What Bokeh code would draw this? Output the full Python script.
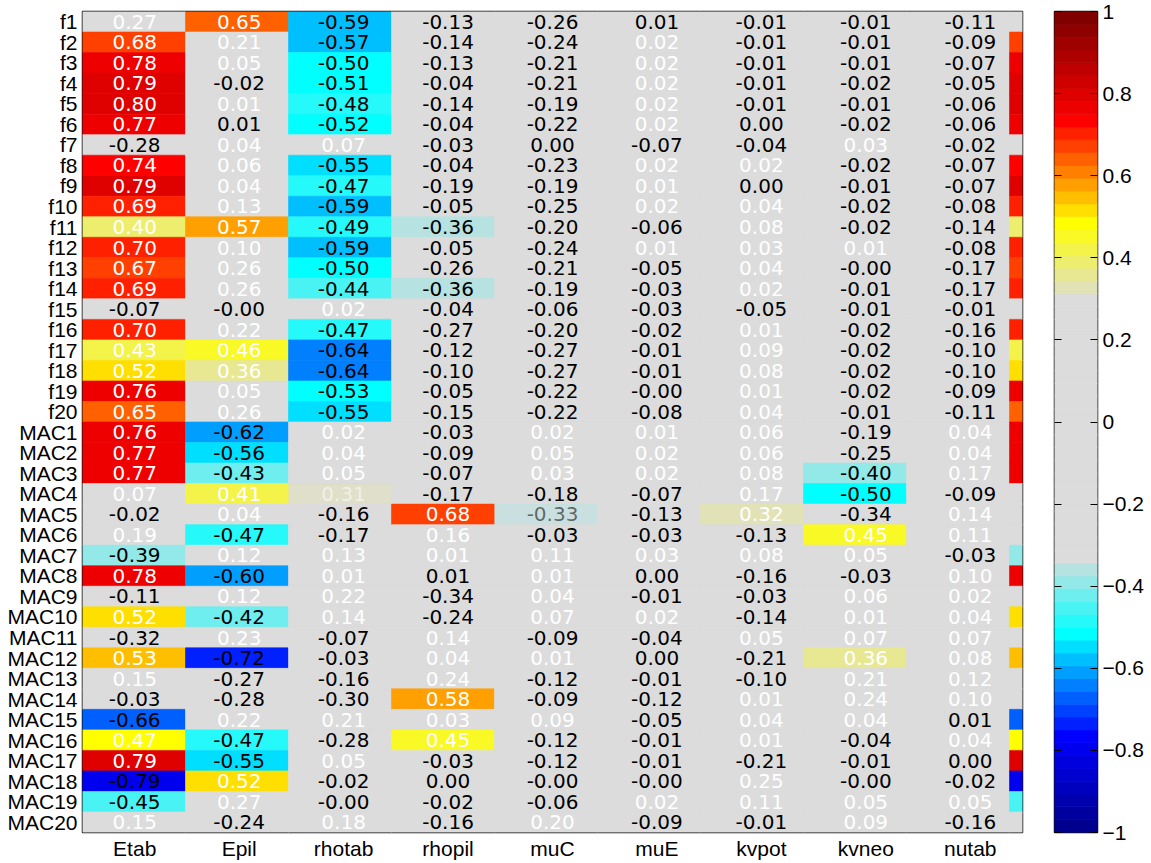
from bokeh.plotting import figure
from bokeh.models import ColumnDataSource, FixedTicker, LinearAxis, Range1d
from bokeh.layouts import row
from bokeh.embed import file_html
from bokeh.resources import INLINE
from bokeh.core.properties import value

# ---------------- data ----------------
rows = [f"f{i}" for i in range(1, 21)] + [f"MAC{i}" for i in range(1, 21)]
cols = ["Etab", "Epil", "rhotab", "rhopil", "muC", "muE", "kvpot", "kvneo", "nutab"]

Etab = [0.27, 0.68, 0.78, 0.79, 0.80, 0.77, -0.28, 0.74, 0.79, 0.69,
        0.40, 0.70, 0.67, 0.69, -0.07, 0.70, 0.43, 0.52, 0.76, 0.65,
        0.76, 0.77, 0.77, 0.07, -0.02, 0.19, -0.39, 0.78, -0.11, 0.52,
        -0.32, 0.532, 0.15, -0.03, -0.66, 0.47, 0.79, -0.79, -0.45, 0.15]
Epil = [0.65, 0.21, 0.05, -0.02, 0.012, 0.008, 0.04, 0.06, 0.04, 0.13,
        0.57, 0.10, 0.26, 0.26, -0.001, 0.22, 0.46, 0.36, 0.05, 0.26,
        -0.62, -0.56, -0.43, 0.41, 0.04, -0.47, 0.12, -0.60, 0.12, -0.42,
        0.23, -0.72, -0.27, -0.28, 0.22, -0.47, -0.55, 0.52, 0.27, -0.24]
rhotab = [-0.59, -0.57, -0.502, -0.51, -0.48, -0.52, 0.07, -0.55, -0.47, -0.59,
          -0.49, -0.59, -0.502, -0.44, 0.02, -0.47, -0.64, -0.64, -0.53, -0.55,
          0.02, 0.04, 0.05, 0.31, -0.16, -0.17, 0.13, 0.012, 0.22, 0.14,
          -0.07, -0.03, -0.16, -0.30, 0.21, -0.28, 0.05, -0.02, -0.001, 0.18]
rhopil = [-0.13, -0.14, -0.13, -0.04, -0.14, -0.04, -0.03, -0.04, -0.19, -0.05,
          -0.36, -0.05, -0.26, -0.36, -0.04, -0.27, -0.12, -0.10, -0.05, -0.15,
          -0.03, -0.09, -0.07, -0.17, 0.68, 0.16, 0.012, 0.008, -0.34, -0.24,
          0.14, 0.04, 0.24, 0.58, 0.03, 0.45, -0.03, 0.0, -0.02, -0.16]
muC = [-0.26, -0.24, -0.21, -0.21, -0.19, -0.22, 0.0, -0.23, -0.19, -0.25,
       -0.20, -0.24, -0.21, -0.19, -0.06, -0.20, -0.27, -0.27, -0.22, -0.22,
       0.02, 0.05, 0.03, -0.18, -0.33, -0.03, 0.11, 0.012, 0.04, 0.07,
       -0.09, 0.012, -0.12, -0.09, 0.09, -0.12, -0.12, -0.001, -0.06, 0.20]
muE = [0.008, 0.02, 0.02, 0.02, 0.02, 0.02, -0.07, 0.02, 0.012, 0.02,
       -0.06, 0.012, -0.05, -0.03, -0.03, -0.02, -0.01, -0.01, -0.001, -0.08,
       0.012, 0.02, 0.02, -0.07, -0.13, -0.03, 0.03, 0.0, -0.01, 0.02,
       -0.04, 0.0, -0.01, -0.12, -0.05, -0.01, -0.01, -0.001, 0.02, -0.09]
kvpot = [-0.01, -0.01, -0.01, -0.01, -0.01, 0.0, -0.04, 0.02, 0.0, 0.04,
         0.08, 0.03, 0.04, 0.02, -0.05, 0.012, 0.09, 0.08, 0.012, 0.04,
         0.06, 0.06, 0.08, 0.17, 0.32, -0.13, 0.08, -0.16, -0.03, -0.14,
         0.05, -0.21, -0.10, 0.012, 0.04, 0.012, -0.21, 0.25, 0.11, -0.01]
kvneo = [-0.01, -0.01, -0.01, -0.02, -0.01, -0.02, 0.03, -0.02, -0.01, -0.02,
         -0.02, 0.012, -0.001, -0.01, -0.01, -0.02, -0.02, -0.02, -0.02, -0.01,
         -0.19, -0.25, -0.40, -0.502, -0.34, 0.45, 0.05, -0.03, 0.06, 0.012,
         0.07, 0.36, 0.21, 0.24, 0.04, -0.04, -0.01, -0.001, 0.05, 0.09]
nutab = [-0.11, -0.09, -0.07, -0.05, -0.06, -0.06, -0.02, -0.07, -0.07, -0.08,
         -0.14, -0.08, -0.17, -0.17, -0.01, -0.16, -0.10, -0.10, -0.09, -0.11,
         0.04, 0.04, 0.17, -0.09, 0.14, 0.11, -0.03, 0.10, 0.02, 0.04,
         0.07, 0.08, 0.12, 0.10, 0.008, 0.04, 0.0, -0.02, 0.05, -0.16]
columns = [Etab, Epil, rhotab, rhopil, muC, muE, kvpot, kvneo, nutab]

# cells drawn half-transparent in the original (marginal values)
faded = [("MAC4", "rhotab"), ("MAC5", "muC")]

cb_ticks = [-1.0, -0.8, -0.6, -0.4, -0.2, 0.0, 0.2, 0.4, 0.6, 0.8, 1.0]
cb_labels = ["\u22121", "\u22120.8", "\u22120.6", "\u22120.4", "\u22120.2", "0",
             "0.2", "0.4", "0.6", "0.8", "1"]

# ---------------- styles ----------------
GRAY = "#dcdcdc"
PALETTE = (["#00008f", "#00009f", "#0000af", "#0000bf", "#0000cf", "#0000df", "#0000ef", "#0000ff",
            "#0020ff", "#0040ff", "#0060ff", "#0080ff", "#009fff", "#00bfff", "#00dfff", "#00ffff",
            "#25f9f9", "#49f3f3", "#6eeeee", "#93e8e8", "#b7e2e2"]
           + [GRAY] * 21
           + ["#e2e2b7", "#e8e893", "#eeee6e", "#f3f349", "#f9f925",
              "#ffff00", "#ffdf00", "#ffbf00", "#ff9f00", "#ff8000", "#ff6000", "#ff4000", "#ff2000",
              "#ff0000", "#ef0000", "#df0000", "#cf0000", "#bf0000", "#af0000", "#9f0000", "#8f0000",
              "#800000"])
NLEV = len(PALETTE)
CELL_W = 0.9862  # cells in the original are drawn slightly narrower than the column pitch
LABEL_FONT = "Liberation Sans"
LABEL_SIZE = "21px"


def level(v):
    return max(0, min(NLEV - 1, int((v + 1.0) / 2.0 * NLEV)))


def cell_fill(v, is_faded):
    k = level(v)
    if is_faded and PALETTE[k] == GRAY:
        while PALETTE[k] == GRAY:
            k += 1 if v > 0 else -1
    return PALETTE[k]


# ---------------- cell data ----------------
cell = dict(left=[], right=[], top=[], bottom=[], fill=[], falpha=[])
txt = dict(x=[], y=[], text=[], color=[], alpha=[])
for j, (cname, vals) in enumerate(zip(cols, columns)):
    for i, (rname, v) in enumerate(zip(rows, vals)):
        fd = (rname, cname) in faded
        cell["left"].append(j * CELL_W)
        cell["right"].append((j + 1) * CELL_W)
        cell["top"].append(i)
        cell["bottom"].append(i + 1)
        cell["fill"].append(cell_fill(v, fd))
        cell["falpha"].append(0.5 if fd else 1.0)
        txt["x"].append(j + 0.5)
        txt["y"].append(i + 0.5)
        txt["text"].append("%.2f" % v)
        txt["color"].append("white" if v > 0.01 else "black")
        txt["alpha"].append(0.55 if fd else 1.0)
# wrapped copy of the first column visible at the right edge
for i, v in enumerate(columns[0]):
    cell["left"].append(len(cols) * CELL_W)
    cell["right"].append((len(cols) + 1) * CELL_W)
    cell["top"].append(i)
    cell["bottom"].append(i + 1)
    cell["fill"].append(cell_fill(v, False))
    cell["falpha"].append(1.0)

H = 862
TOP = 11
BOTTOM = 28
p = figure(width=1032, height=H, x_range=Range1d(0, len(cols)), y_range=Range1d(len(rows), 0),
           output_backend="svg", toolbar_location=None,
           min_border_left=82, min_border_right=10, min_border_top=TOP, min_border_bottom=BOTTOM)
p.background_fill_color = GRAY
p.border_fill_color = "white"
p.outline_line_color = "#111111"
p.outline_line_width = 1.5
p.grid.visible = False

p.quad(left="left", right="right", top="top", bottom="bottom", fill_color="fill",
       fill_alpha="falpha", line_color="fill", line_alpha="falpha", line_width=0.6,
       source=ColumnDataSource(cell))
p.text(x="x", y="y", text="text", text_color="color", text_alpha="alpha",
       text_align="center", text_baseline="middle", text_font=value("DejaVu Sans"),
       text_font_size="20px", source=ColumnDataSource(txt))

p.xaxis.ticker = FixedTicker(ticks=[j + 0.5 for j in range(len(cols))])
p.xaxis.major_label_overrides = {j + 0.5: c for j, c in enumerate(cols)}
p.yaxis.ticker = FixedTicker(ticks=[i + 0.5 for i in range(len(rows))])
p.yaxis.major_label_overrides = {i + 0.5: r for i, r in enumerate(rows)}
for ax in (p.xaxis, p.yaxis):
    ax.major_tick_line_color = None
    ax.minor_tick_line_color = None
    ax.major_tick_out = 0
    ax.major_tick_in = 0
    ax.minor_tick_out = 0
    ax.minor_tick_in = 0
    ax.axis_label_standoff = 0
    ax.axis_line_color = None
    ax.major_label_text_font = LABEL_FONT
    ax.major_label_text_font_size = LABEL_SIZE
    ax.major_label_text_color = "black"
p.xaxis.major_label_standoff = 4
p.yaxis.major_label_standoff = 5

# ---------------- colorbar ----------------
cb = figure(width=115, height=H, x_range=Range1d(0, 1), y_range=Range1d(-1, 1),
            output_backend="svg", toolbar_location=None, x_axis_location=None,
            y_axis_location="right",
            min_border_left=22, min_border_right=50, min_border_top=TOP, min_border_bottom=BOTTOM)
cb.grid.visible = False
cb.outline_line_color = "#111111"
cb.outline_line_width = 1.5
cb.border_fill_color = "white"
levels = list(range(NLEV))
cb.quad(left=0, right=1,
        bottom=[-1 + 2.0 * k / NLEV for k in levels],
        top=[-1 + 2.0 * (k + 1) / NLEV for k in levels],
        fill_color=PALETTE, line_color=PALETTE, line_width=0.8)
ax_r = cb.yaxis[0]
ax_r.ticker = FixedTicker(ticks=cb_ticks)
ax_r.major_label_overrides = {t: l for t, l in zip(cb_ticks, cb_labels)}
ax_l = LinearAxis(ticker=FixedTicker(ticks=cb_ticks))
ax_l.major_label_text_font_size = "0px"
ax_l.major_label_standoff = 0
cb.add_layout(ax_l, "left")
for ax in (ax_r, ax_l):
    ax.major_tick_in = 7
    ax.major_tick_out = 0
    ax.minor_tick_in = 0
    ax.minor_tick_out = 0
    ax.axis_label_standoff = 0
    ax.major_tick_line_color = "black"
    ax.minor_tick_line_color = None
    ax.axis_line_color = None
    ax.major_label_text_font = LABEL_FONT
ax_r.major_label_text_font_size = LABEL_SIZE
ax_r.major_label_text_color = "black"
ax_r.major_label_standoff = 5

layout = row(p, cb)
open("out.html", "w").write(file_html(layout, INLINE))
